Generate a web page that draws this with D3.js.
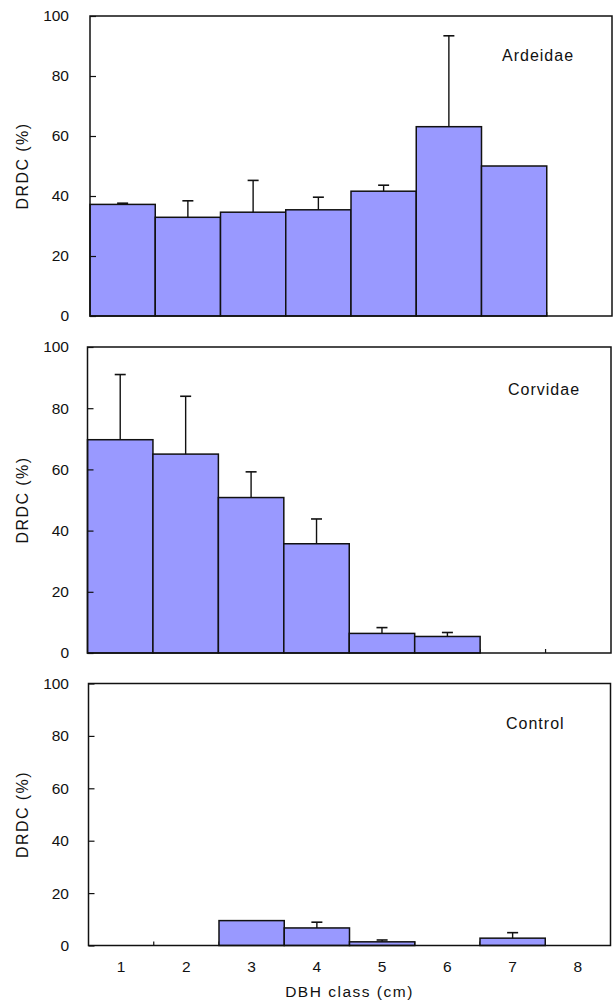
<!DOCTYPE html>
<html>
<head>
<meta charset="utf-8">
<script src="https://cdn.jsdelivr.net/npm/d3@7/dist/d3.min.js"></script>
<style>
  html, body { margin: 0; padding: 0; background: #fff; }
  svg { display: block; }
  text { font-family: "Liberation Sans", Arial, sans-serif; fill: #111; }
</style>
</head>
<body>
<svg id="chart" width="616" height="1000"></svg>
<script>
// ---- data ----
const categories = ["1", "2", "3", "4", "5", "6", "7", "8"];
const yTicks = [0, 20, 40, 60, 80, 100];
const panelNames = ["Ardeidae", "Corvidae", "Control"];

const ardeidaeValues = [37.2, 32.9, 34.6, 35.4, 41.6, 63.1, 50.0, 0];
const ardeidaeErrors = [0.4, 5.5, 10.6, 4.2, 2.0, 30.3, null, null];

const corvidaeValues = [69.7, 65.0, 50.8, 35.7, 6.4, 5.4, 0, 0];
const corvidaeErrors = [21.3, 18.9, 8.4, 8.1, 1.9, 1.3, null, null];

const controlValues = [0, 0, 9.5, 6.7, 1.4, 0, 2.8, 0];
const controlErrors = [null, null, null, 2.2, 0.7, null, 2.1, null];

const yTitle = "DRDC (%)";
const xTitle = "DBH class (cm)";

// ---- layout ----
const panels = [
  { name: panelNames[0], values: ardeidaeValues, errors: ardeidaeErrors,
    left: 90, right: 612, top: 16, bottom: 316, labelX: 502, labelY: 61 },
  { name: panelNames[1], values: corvidaeValues, errors: corvidaeErrors,
    left: 87.5, right: 611, top: 347, bottom: 653, labelX: 508, labelY: 395 },
  { name: panelNames[2], values: controlValues, errors: controlErrors,
    left: 88.5, right: 610.5, top: 683.5, bottom: 945.5, labelX: 506, labelY: 729 }
];

const svg = d3.select("#chart");
const barFill = "#9999FF";
const ink = "#111";

panels.forEach((p, pi) => {
  const x = d3.scaleBand().domain(categories).range([p.left, p.right]).paddingInner(0).paddingOuter(0);
  const y = d3.scaleLinear().domain([0, 100]).range([p.bottom, p.top]);
  const g = svg.append("g");

  // x boundary ticks (inward), drawn beneath bars
  const bounds = categories.slice(1).map(c => x(c));
  g.selectAll("line.xt").data(bounds).enter().append("line")
    .attr("x1", d => d).attr("x2", d => d)
    .attr("y1", p.bottom).attr("y2", p.bottom - 4)
    .attr("stroke", ink).attr("stroke-width", 1.2);

  // bars
  const data = categories.map((c, i) => ({ c, v: p.values[i], e: p.errors[i] }));
  g.selectAll("rect.bar").data(data.filter(d => d.v > 0)).enter().append("rect")
    .attr("x", d => x(d.c)).attr("width", x.bandwidth())
    .attr("y", d => y(d.v)).attr("height", d => y(0) - y(d.v))
    .attr("fill", barFill).attr("stroke", ink).attr("stroke-width", 1.5);

  // error bars
  const eb = data.filter(d => d.e != null && d.v > 0);
  g.selectAll("line.err").data(eb).enter().append("line")
    .attr("x1", d => x(d.c) + x.bandwidth() / 2).attr("x2", d => x(d.c) + x.bandwidth() / 2)
    .attr("y1", d => y(d.v)).attr("y2", d => y(d.v + d.e))
    .attr("stroke", ink).attr("stroke-width", 1.4);
  g.selectAll("line.cap").data(eb).enter().append("line")
    .attr("x1", d => x(d.c) + x.bandwidth() / 2 - 5.5).attr("x2", d => x(d.c) + x.bandwidth() / 2 + 5.5)
    .attr("y1", d => y(d.v + d.e)).attr("y2", d => y(d.v + d.e))
    .attr("stroke", ink).attr("stroke-width", 1.6);

  // frame
  g.append("rect")
    .attr("x", p.left).attr("y", p.top)
    .attr("width", p.right - p.left).attr("height", p.bottom - p.top)
    .attr("fill", "none").attr("stroke", ink).attr("stroke-width", 1.5);

  // y axis
  const yAxis = d3.axisLeft(y).tickValues(yTicks).tickSizeInner(-6).tickSizeOuter(0)
    .tickPadding(p.left - 69).tickFormat(d3.format("d"));
  const ya = g.append("g").attr("transform", `translate(${p.left},0)`).call(yAxis);
  ya.select(".domain").remove();
  ya.selectAll(".tick line").attr("stroke", ink).attr("stroke-width", 1.2);
  ya.selectAll(".tick text").style("font-size", "15.5px").attr("fill", ink);

  // y title
  g.append("text")
    .attr("transform", `translate(28,${(p.top + p.bottom) / 2}) rotate(-90)`)
    .attr("text-anchor", "middle")
    .style("font-size", "16px").style("letter-spacing", "1.4px")
    .text(yTitle);

  // panel label
  g.append("text")
    .attr("x", p.labelX).attr("y", p.labelY)
    .style("font-size", "16px").style("letter-spacing", "1px")
    .text(p.name);

  // x axis labels on last panel
  if (pi === panels.length - 1) {
    const xAxis = d3.axisBottom(x).tickSize(0).tickPadding(15);
    const xa = g.append("g").attr("transform", `translate(0,${p.bottom})`).call(xAxis);
    xa.select(".domain").remove();
    xa.selectAll(".tick text").style("font-size", "15.5px").attr("fill", ink);
    g.append("text")
      .attr("x", (p.left + p.right) / 2).attr("y", 997)
      .attr("text-anchor", "middle")
      .style("font-size", "15.5px").style("letter-spacing", "1.5px")
      .text(xTitle);
  }
});
</script>
</body>
</html>
